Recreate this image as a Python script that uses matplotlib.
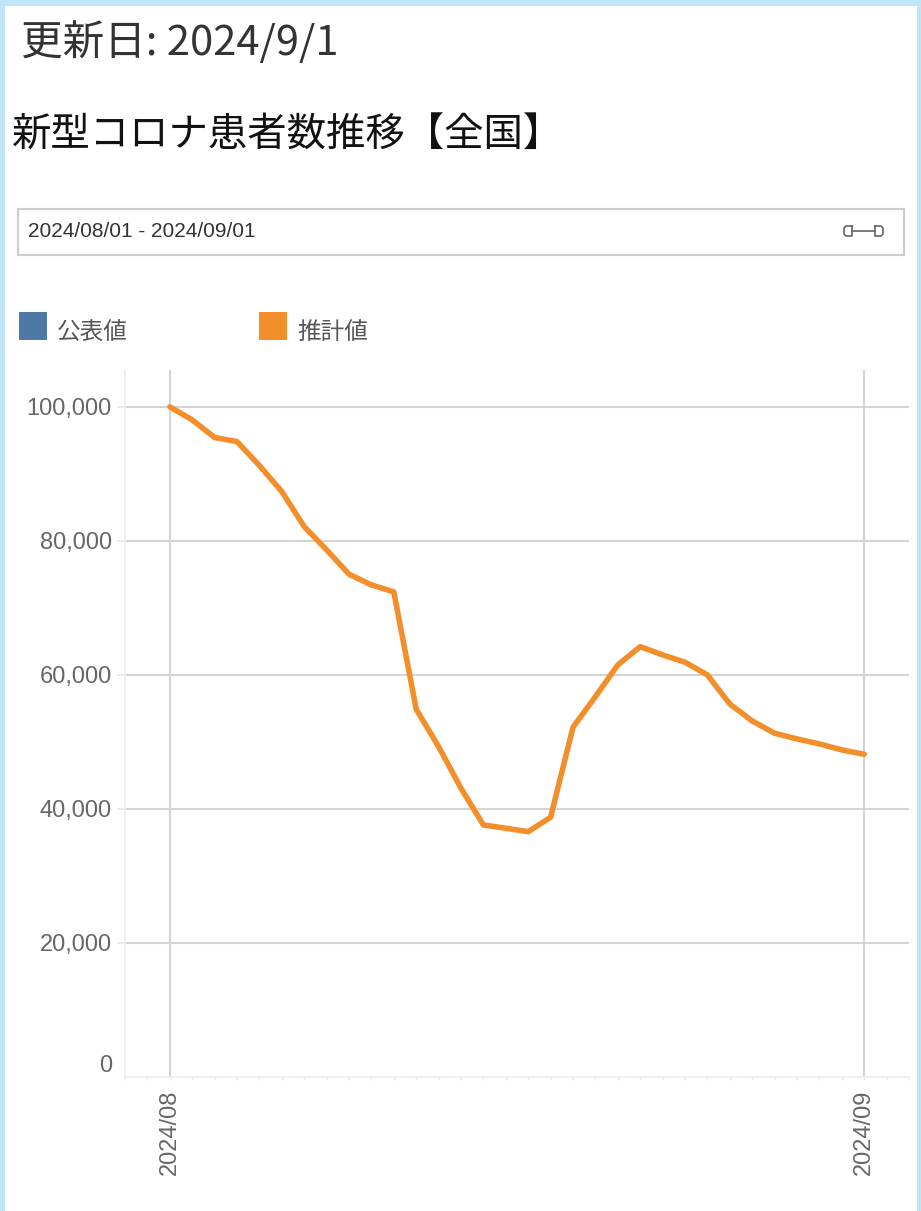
import numpy as np
import pandas as pd
import matplotlib
matplotlib.use('Agg')
import matplotlib.pyplot as plt
import matplotlib.dates as mdates
from matplotlib.patches import Rectangle
from matplotlib.lines import Line2D
from matplotlib.ticker import FuncFormatter
from matplotlib.transforms import ScaledTranslation

# figure size in pixels
W, H = 921, 1211

# texts
update_label = '更新日: 2024/9/1'
chart_title = '新型コロナ患者数推移【全国】'
range_label = '2024/08/01 - 2024/09/01'
series_names = ['公表値', '推計値']
series_colors = ['#4e79a7', '#f38f2b']

# data
dates = pd.date_range('2024-08-01', '2024-09-01', freq='D')
estimated = [100000, 98060, 95420, 94820, 91240, 87360, 82130, 78660,
             75030, 73430, 72390, 54880, 49300, 43090, 37610, 37120,
             36610, 38760, 52190, 56760, 61490, 64220, 62990, 61900,
             60000, 55670, 53130, 51300, 50450, 49700, 48810, 48160]
y_ticks = [0, 20000, 40000, 60000, 80000, 100000]
x_ticks = ['2024-08-01', '2024-09-01']
x_ticklabels = ['2024/08', '2024/09']

cjk = ['Noto Sans CJK JP', 'DejaVu Sans']
plt.rcParams['font.family'] = ['Liberation Sans', 'Noto Sans CJK JP', 'DejaVu Sans']


def fx(x):
    return x / W


def fy(y):
    return 1 - y / H


fig = plt.figure(figsize=(W / 100, H / 100), dpi=100, facecolor='#bfe6f7')
# white page inside the light blue frame
fig.add_artist(Rectangle((fx(5), 0), fx(917) - fx(5), fy(6), transform=fig.transFigure,
                         facecolor='white', edgecolor='none', zorder=-10))

# header texts
fig.text(fx(21), fy(55), update_label, fontsize=30, color='#333333', family=cjk, va='baseline')
fig.text(fx(12), fy(147), chart_title, fontsize=28.4, color='#111111', family=cjk, va='baseline')

# date range box
fig.add_artist(Rectangle((fx(18), fy(255)), fx(904) - fx(18), fy(209) - fy(255),
                         transform=fig.transFigure, facecolor='white', edgecolor='#cccccc', lw=1.5))
fig.text(fx(28), fy(237), range_label, fontsize=15, color='#333333', va='baseline')
# little slider icon on the right of the box
icon = [
    [(852, 226), (846, 226), (844, 228), (844, 234), (846, 236), (852, 236), (852, 226)],
    [(852, 231), (875, 231)],
    [(875, 226), (881, 226), (883, 228), (883, 234), (881, 236), (875, 236), (875, 226)],
]
for seg in icon:
    xs = [fx(p[0]) for p in seg]
    ys = [fy(p[1]) for p in seg]
    fig.add_artist(Line2D(xs, ys, transform=fig.transFigure, color='#666666', lw=1.2))

# legend
for name, col, x0 in zip(series_names, series_colors, [19, 259]):
    fig.add_artist(Rectangle((fx(x0), fy(340)), fx(28), fy(312) - fy(340),
                             transform=fig.transFigure, facecolor=col, edgecolor='none'))
    fig.text(fx(x0 + 38), fy(340), name, fontsize=17, color='#555555', family=cjk, va='baseline')

# chart
ax = fig.add_axes([fx(125), fy(1077), fx(909) - fx(125), fy(370) - fy(1077)])
ax.plot(dates, estimated, color=series_colors[1], lw=4.0,
        solid_capstyle='round', solid_joinstyle='round', zorder=3, clip_on=False)

ax.set_xlim(dates[0] - pd.Timedelta(days=2), dates[-1] + pd.Timedelta(days=2))
ax.set_ylim(0, 105500)

ax.set_yticks(y_ticks)
ax.yaxis.set_major_formatter(FuncFormatter(lambda v, p: '{:,.0f}'.format(v)))
ax.set_xticks(pd.to_datetime(x_ticks))
ax.set_xticklabels(x_ticklabels, rotation=90, va='top', ha='center')
ax.xaxis.set_minor_locator(mdates.DayLocator())

ax.grid(True, which='major', color='#d4d4d4', lw=1.5)
ax.set_axisbelow(True)
ax.tick_params(axis='y', which='major', length=5.8, width=1.2, color='#e8e8e8',
               labelsize=17, labelcolor='#666666', pad=3.6)
ax.tick_params(axis='x', which='both', length=2.2, width=1.0, color='#e8e8e8',
               labelsize=17, labelcolor='#666666', pad=7.2)

for side in ['top', 'right']:
    ax.spines[side].set_visible(False)
for side in ['left', 'bottom']:
    ax.spines[side].set_color('#ececec')
    ax.spines[side].set_linewidth(1.2)

# zero tick: no grid line, label sits a bit above the baseline
t0 = ax.yaxis.get_major_ticks()[0]
t0.gridline.set_visible(False)
t0.tick1line.set_visible(False)
t0.label1.set_transform(t0.label1.get_transform() + ScaledTranslation(0, 0.14, fig.dpi_scale_trans))

fig.savefig('out.png', dpi=100, facecolor=fig.get_facecolor())
